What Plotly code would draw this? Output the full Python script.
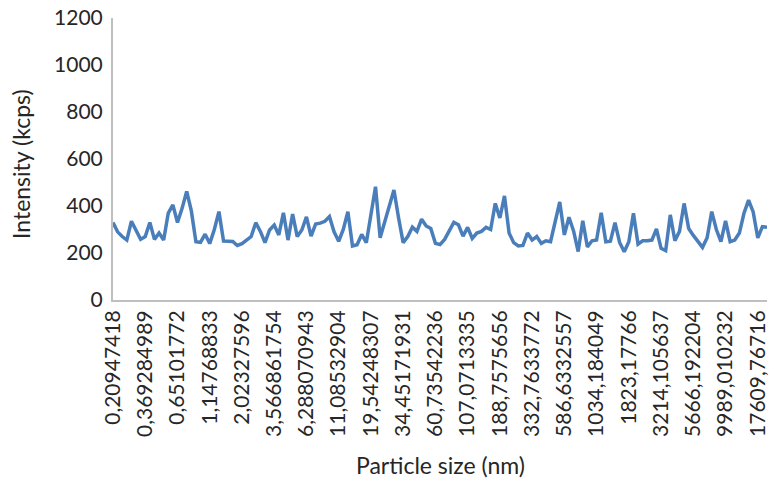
import plotly.graph_objects as go

# Tick labels (every 7th size bin)
tick_labels = [
    "0,20947418", "0,369284989", "0,65101772", "1,14768833", "2,02327596",
    "3,566861754", "6,288070943", "11,08532904", "19,54248307", "34,45171931",
    "60,73542236", "107,0713335", "188,7575656", "332,7633772", "586,6332557",
    "1034,184049", "1823,17766", "3214,105637", "5666,192204", "9989,010232",
    "17609,76716",
]
label_step = 7

# Intensity (kcps) per size bin
intensity = [
    330, 290, 270, 255, 335, 300, 258, 270, 330, 258,
    285, 255, 370, 405, 330, 390, 462, 380, 248, 245,
    280, 240, 300, 376, 251, 250, 249, 232, 240, 255,
    270, 329, 292, 244, 298, 319, 277, 371, 255, 366,
    270, 298, 354, 272, 323, 327, 335, 355, 290, 250,
    300, 376, 230, 235, 279, 244, 360, 482, 265, 330,
    400, 468, 350, 244, 270, 310, 292, 344, 315, 304,
    241, 236, 258, 295, 330, 320, 272, 309, 262, 285,
    292, 309, 300, 411, 349, 443, 285, 244, 230, 232,
    285, 255, 270, 241, 252, 248, 330, 417, 277, 352,
    294, 206, 337, 226, 252, 255, 371, 248, 250, 329,
    245, 205, 248, 369, 238, 252, 252, 255, 302, 220,
    210, 362, 252, 292, 411, 304, 275, 250, 224, 265,
    376, 300, 248, 337, 248, 255, 285, 369, 425, 375,
    264, 312, 309,
]

x_idx = list(range(len(intensity)))
tick_vals = [i * label_step for i in range(len(tick_labels))]

FONT = "Lato, Calibri, Liberation Sans, sans-serif"
TXT = "#262626"

fig = go.Figure()
fig.add_trace(go.Scatter(
    x=x_idx, y=intensity, mode="lines",
    line=dict(color="#4A7EBB", width=3.5),
    showlegend=False, hoverinfo="skip",
))

fig.update_layout(
    width=772, height=480,
    margin=dict(l=113, r=5, t=18, b=180),
    paper_bgcolor="white", plot_bgcolor="white",
    font=dict(family=FONT, size=21, color=TXT),
    xaxis=dict(
        range=[0, len(intensity) - 1],
        tickmode="array", tickvals=tick_vals, ticktext=tick_labels,
        tickangle=-90, showgrid=False, zeroline=False,
        showline=True, linecolor="#BFBFBF", linewidth=2,
        ticks="", automargin=False,
        tickfont=dict(family=FONT, size=21, color=TXT),
    ),
    yaxis=dict(
        range=[0, 1200], tickmode="array",
        tickvals=[0, 200, 400, 600, 800, 1000, 1200],
        showgrid=False, zeroline=False,
        showline=True, linecolor="#BFBFBF", linewidth=2,
        ticks="", automargin=False, ticklabelstandoff=4,
        tickfont=dict(family=FONT, size=21, color=TXT),
    ),
    annotations=[
        dict(text="Particle size (nm)", xref="paper", yref="paper",
             x=0.5, y=0, yshift=-165, xanchor="center", yanchor="middle",
             showarrow=False, font=dict(family=FONT, size=23, color=TXT)),
        dict(text="Intensity (kcps)", xref="paper", yref="paper",
             x=0, xshift=-92, y=0.5, yshift=-5, textangle=-90,
             xanchor="center", yanchor="middle",
             showarrow=False, font=dict(family=FONT, size=23, color=TXT)),
    ],
)

fig.write_html("out.html")
